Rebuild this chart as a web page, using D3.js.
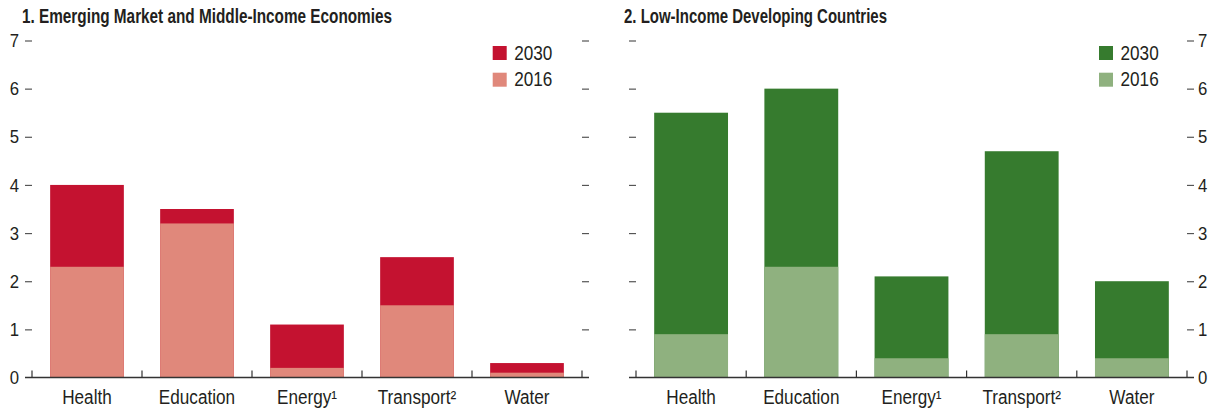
<!DOCTYPE html>
<html>
<head>
<meta charset="utf-8">
<script src="https://cdn.jsdelivr.net/npm/d3@7"></script>
<style>
  body { margin: 0; background: #fff; }
  svg text { font-family: "Liberation Sans", Arial, sans-serif; fill: #231f20; }
</style>
</head>
<body>
<div id="chart"></div>
<script>
const WIDTH = 1219;
const HEIGHT = 412;

// data
const categories = ["Health", "Education", "Energy", "Transport", "Water"];
const footnotes = ["", "", "\u00b9", "\u00b2", ""];
const emdc2030 = [4.0, 3.5, 1.1, 2.5, 0.3];
const emdc2016 = [2.3, 3.2, 0.2, 1.5, 0.1];
const lidc2030 = [5.5, 6.0, 2.1, 4.7, 2.0];
const lidc2016 = [0.9, 2.3, 0.4, 0.9, 0.4];
const yTicks = [0, 1, 2, 3, 4, 5, 6, 7];
const seriesNames = ["2030", "2016"];

const Y_ZERO = 377.5;
const Y_TOP = 40.5;
const NARROW = 0.88; // no condensed font installed, so squeeze the text

const svg = d3.select("#chart")
  .append("svg")
    .attr("width", WIDTH)
    .attr("height", HEIGHT);

let yScale = d3.scaleLinear().domain([0, 7]).range([Y_ZERO, Y_TOP]);

// squeeze text horizontally so it looks like a condensed face
function condense(sel, factor) {
  sel.each(function() {
    const w = this.getComputedTextLength();
    if (w > 0) {
      d3.select(this)
        .attr("textLength", w * factor)
        .attr("lengthAdjust", "spacingAndGlyphs");
    }
  });
}

function drawPanel(p) {
  const g = svg.append("g");

  let xScale = d3.scaleBand()
    .domain(categories)
    .range([p.x0, p.x1])
    .paddingInner(0.33)
    .paddingOuter(0.165);

  // title
  g.append("text")
    .attr("x", p.titleX)
    .attr("y", 23)
    .attr("font-size", 20)
    .attr("font-weight", "bold")
    .attr("textLength", p.titleW)
    .attr("lengthAdjust", "spacingAndGlyphs")
    .text(p.title);

  // y axes, one on each side, labels only on the outer side
  const left = g.append("g")
    .attr("transform", "translate(" + p.x0 + ",0)")
    .call(d3.axisLeft(yScale).tickValues(yTicks).tickSize(7).tickPadding(6)
      .tickFormat(p.labelsLeft ? d3.format("d") : ""));
  const right = g.append("g")
    .attr("transform", "translate(" + p.x1 + ",0)")
    .call(d3.axisRight(yScale).tickValues(yTicks).tickSize(7).tickPadding(4)
      .tickFormat(p.labelsLeft ? "" : d3.format("d")));
  [left, right].forEach(a => {
    a.select(".domain").remove();
    a.selectAll(".tick line").attr("stroke", "#555").attr("stroke-width", 1.2);
    a.selectAll(".tick text").attr("font-size", 19).attr("fill", "#231f20")
      .attr("font-family", "Liberation Sans, Arial, sans-serif")
      .call(condense, NARROW);
    a.selectAll(".tick").filter(d => d === 0).select("line").remove();
  });

  // bars: 2030 behind, 2016 in front
  g.selectAll(".b30")
    .data(categories)
    .enter()
    .append("rect")
    .attr("x", d => xScale(d))
    .attr("y", (d, i) => yScale(p.v2030[i]))
    .attr("width", xScale.bandwidth())
    .attr("height", (d, i) => yScale(0) - yScale(p.v2030[i]))
    .attr("fill", p.colors[0]);

  g.selectAll(".b16")
    .data(categories)
    .enter()
    .append("rect")
    .attr("x", d => xScale(d))
    .attr("y", (d, i) => yScale(p.v2016[i]))
    .attr("width", xScale.bandwidth())
    .attr("height", (d, i) => yScale(0) - yScale(p.v2016[i]))
    .attr("fill", p.colors[1]);

  // baseline and category ticks
  g.append("line")
    .attr("x1", p.x0 - 7).attr("x2", p.x1 + 7)
    .attr("y1", yScale(0)).attr("y2", yScale(0))
    .attr("stroke", "#333").attr("stroke-width", 1.5);

  const bounds = d3.range(categories.length + 1).map(i => p.x0 + i * xScale.step());
  g.selectAll(".ctick")
    .data(bounds)
    .enter()
    .append("line")
    .attr("x1", d => d).attr("x2", d => d)
    .attr("y1", yScale(0)).attr("y2", yScale(0) - 7)
    .attr("stroke", "#333").attr("stroke-width", 1.2);

  // category labels (footnote marks as superscript characters)
  g.selectAll(".clab")
    .data(categories)
    .enter()
    .append("text")
    .attr("x", d => xScale(d) + xScale.bandwidth() / 2)
    .attr("y", 404)
    .attr("text-anchor", "middle")
    .attr("font-size", 19.5)
    .text((d, i) => d + footnotes[i])
    .call(condense, NARROW);

  // legend
  seriesNames.forEach((s, i) => {
    g.append("rect")
      .attr("x", p.legX).attr("y", 46 + i * 26.7)
      .attr("width", 14).attr("height", 14)
      .attr("fill", p.colors[i]);
    g.append("text")
      .attr("x", p.legX + 21.5).attr("y", 59.5 + i * 26.7)
      .attr("font-size", 19.5)
      .text(s)
      .call(condense, NARROW);
  });
}

drawPanel({
  title: "1. Emerging Market and Middle-Income Economies",
  titleX: 22, titleW: 370, x0: 32, x1: 582, legX: 492.7, labelsLeft: true,
  v2030: emdc2030, v2016: emdc2016,
  colors: ["#c41230", "#e0887b"]
});

drawPanel({
  title: "2. Low-Income Developing Countries",
  titleX: 624, titleW: 263, x0: 636, x1: 1187, legX: 1099, labelsLeft: false,
  v2030: lidc2030, v2016: lidc2016,
  colors: ["#367b2e", "#8fb17f"]
});
</script>
</body>
</html>
